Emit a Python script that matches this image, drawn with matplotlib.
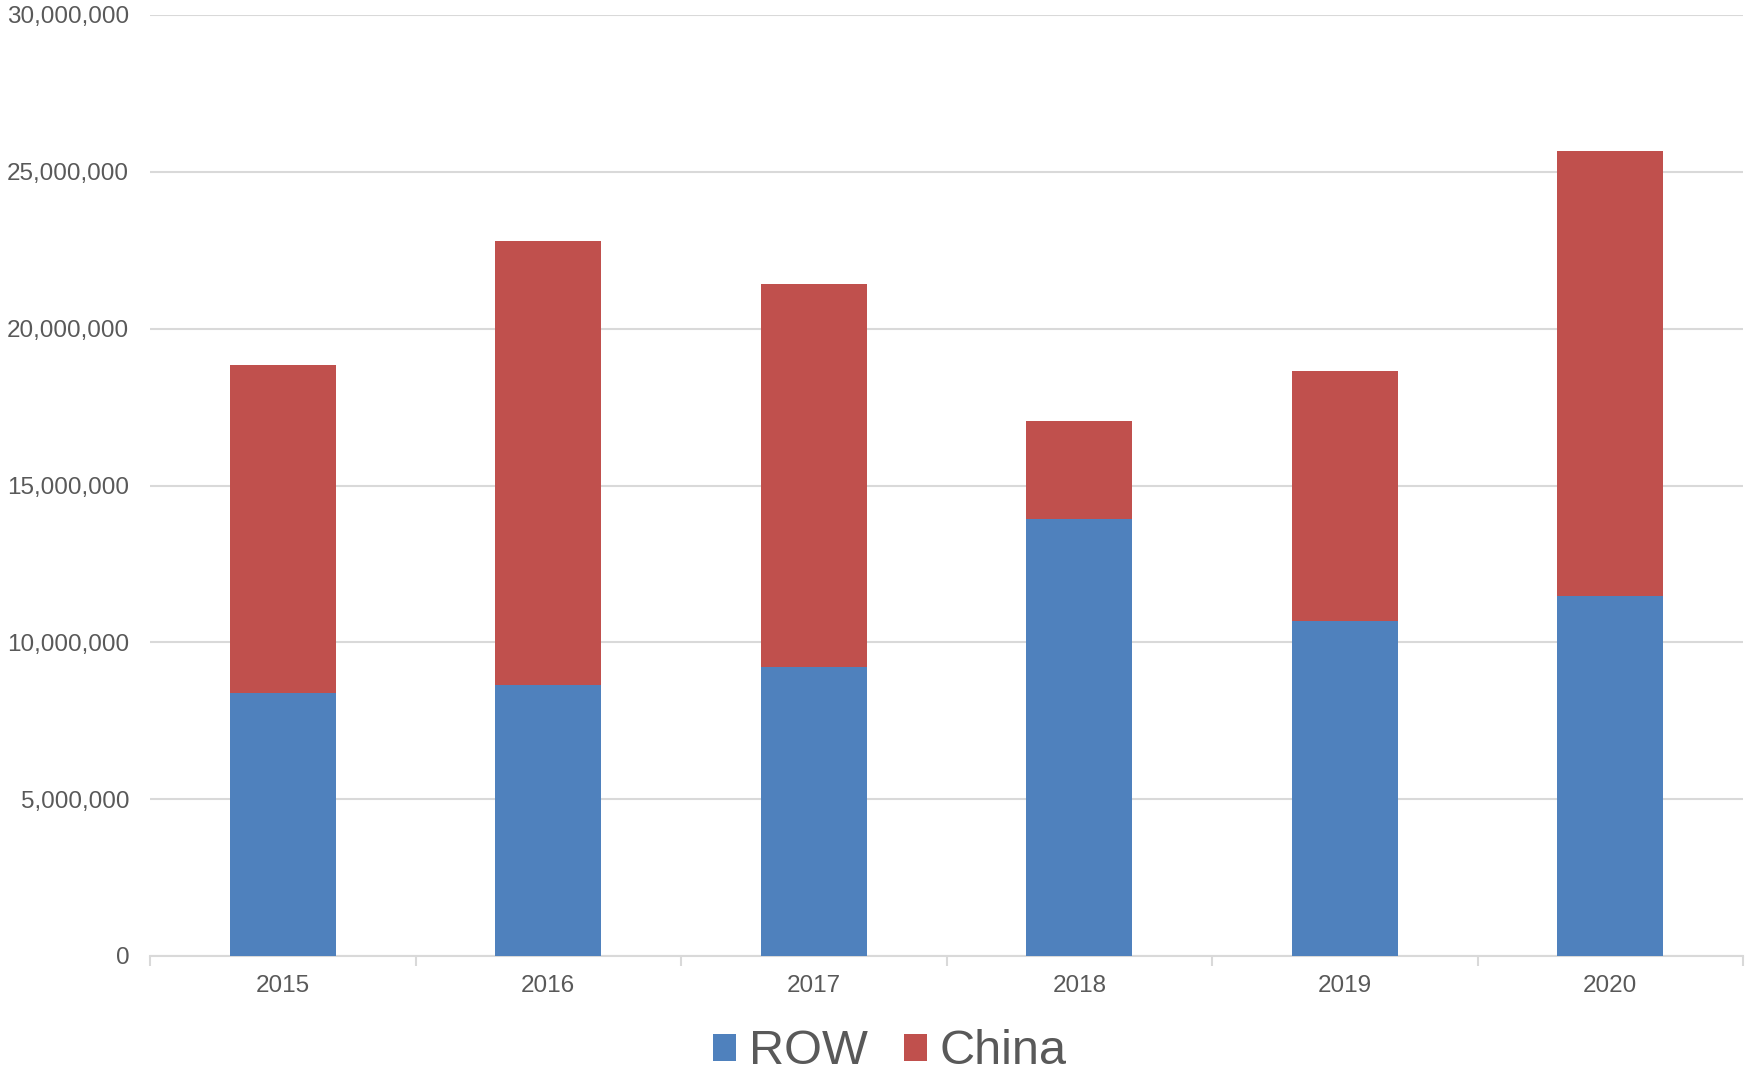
import matplotlib.pyplot as plt
from matplotlib.ticker import FuncFormatter, FixedLocator
import numpy as np

plt.rcParams['font.family'] = ['Liberation Sans', 'DejaVu Sans']

# dane
years = ['2015', '2016', '2017', '2018', '2019', '2020']
row_vals = [8370000, 8640000, 9220000, 13920000, 10670000, 11490000]
china_vals = [10470000, 14170000, 12200000, 3130000, 7980000, 14170000]

blue = '#4F81BD'
red = '#C0504D'
grey_txt = '#595959'
grey_line = '#D9D9D9'

fig = plt.figure(figsize=(17.52, 10.71), dpi=100)
ax = fig.add_axes([150 / 1752, 1 - 956 / 1071, (1743 - 150) / 1752, (956 - 15) / 1071])

x = np.arange(len(years))
ax.bar(x, row_vals, width=0.4, color=blue, label='ROW', zorder=3)
ax.bar(x, china_vals, width=0.4, bottom=row_vals, color=red, label='China', zorder=3)

ax.set_xlim(-0.5, len(years) - 0.5)
ax.set_ylim(0, 30000000)
ax.set_yticks(np.arange(0, 30000001, 5000000))
ax.yaxis.set_major_formatter(FuncFormatter(lambda v, p: f'{int(v):,}'))
ax.grid(axis='y', color=grey_line, linewidth=1.5, zorder=0)

ax.set_xticks(x)
ax.set_xticklabels(years)
ax.xaxis.set_minor_locator(FixedLocator(np.arange(-0.5, len(years), 1.0)))
ax.tick_params(axis='x', which='major', length=0, pad=14, labelsize=17.5, labelcolor=grey_txt)
ax.tick_params(axis='x', which='minor', length=7, width=1.5, color=grey_line, direction='out')
ax.tick_params(axis='y', length=0, pad=15, labelsize=17.5, labelcolor=grey_txt)

for s in ['top', 'right', 'left']:
    ax.spines[s].set_visible(False)
ax.spines['bottom'].set_color(grey_line)
ax.spines['bottom'].set_linewidth(1.5)

leg = fig.legend(loc='center', bbox_to_anchor=(0.508, 1 - 1052 / 1071), ncol=2,
                 frameon=False, fontsize=35, handlelength=0.47, handleheight=0.47,
                 handletextpad=0.27, columnspacing=0.74, borderpad=0)
for t in leg.get_texts():
    t.set_color(grey_txt)

fig.savefig('out.png', dpi=100)
